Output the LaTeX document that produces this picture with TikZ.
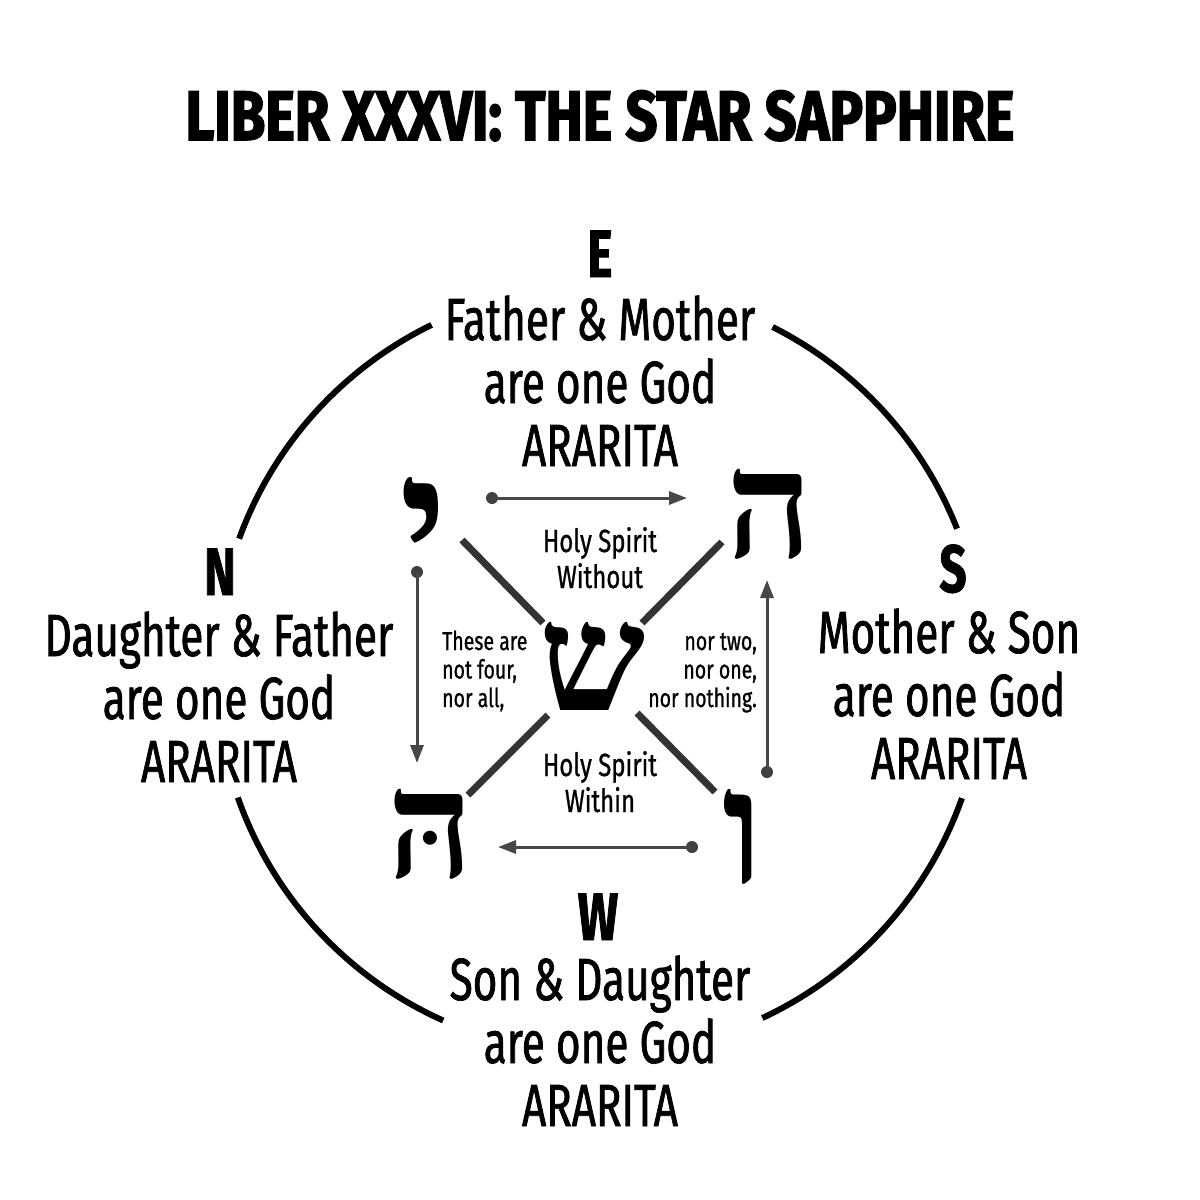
\documentclass[tikz,border=0pt]{standalone}
\usepackage{fontspec}
\usetikzlibrary{arrows.meta}
\setmainfont{Fira Sans}[FakeStretch=0.71, FakeBold=1.2]
\newfontfamily\smallfont{Fira Sans}[FakeStretch=0.75, FakeBold=0.8]
\newfontfamily\titlefont{Fira Sans}[FakeStretch=0.80, FakeBold=2.2]
\newfontfamily\hebfont[Script=Hebrew]{Liberation Serif}
\tikzset{
  maintext/.style={font=\fontsize{59.5}{63}\selectfont, align=center, anchor=base, inner sep=0pt},
  dirtext/.style={font=\fontsize{67}{70}\selectfont\bfseries, anchor=base, inner sep=0pt},
  smallc/.style={font=\fontsize{32}{36}\selectfont\smallfont, align=center, anchor=base, inner sep=0pt},
  smallside/.style={font=\fontsize{26}{28.5}\selectfont\smallfont, anchor=base, inner sep=0pt},
  hebletter/.style={font=\fontsize{150}{150}\selectfont\hebfont\bfseries, anchor=base, inner sep=0pt},
  ring/.style={line width=6pt, black},
  cross/.style={line width=7pt, black!80},
  flow/.style={line width=3pt, black!72, -{Triangle[length=18pt,width=13pt]}},
  dot/.style={circle, fill=black!75, inner sep=0pt, minimum size=12pt},
}
\begin{document}
\begin{tikzpicture}[x=1pt,y=-1pt]
\useasboundingbox[fill=white] (0,0) rectangle (1200,1200);
% title
\node[font=\fontsize{70}{70}\selectfont\titlefont\bfseries, anchor=base, inner sep=0pt] (title) at (600,140) {LIBER XXXVI: THE STAR SAPPHIRE};
% outer ring arcs
\coordinate (c) at (600,670);
\draw[ring] (c) ++(-116:384) arc[start angle=-116, end angle=-160, radius=384];
\draw[ring] (c) ++(-21.6:384) arc[start angle=-21.6, end angle=-63.3, radius=384];
\draw[ring] (c) ++(19.5:384) arc[start angle=19.5, end angle=65, radius=384];
\draw[ring] (c) ++(160.6:384) arc[start angle=160.6, end angle=114.1, radius=384];
% directions
\node[dirtext] (E) at (600,277) {E};
\node[dirtext] (N) at (220,595) {N};
\node[dirtext] (S) at (953,592) {S};
\node[dirtext] (W) at (598,940) {W};
\node[maintext] (east) at (600,466) {Father \& Mother\\are one God\\ARARITA};
\node[maintext] (north) at (219,782) {Daughter \& Father\\are one God\\ARARITA};
\node[maintext] (south) at (949,779) {Mother \& Son\\are one God\\ARARITA};
\node[maintext] (west) at (600,1126) {Son \& Daughter\\are one God\\ARARITA};
% hebrew letters
\node[hebletter, font=\fontsize{184}{184}\selectfont\hebfont\bfseries] (yod) at (424,585) {י};
\node[hebletter] (he1) at (770,557) {ה};
\node[hebletter] (he2) at (431,877) {הּ};
\node[hebletter, font=\fontsize{160}{160}\selectfont\hebfont\bfseries] (vav) at (743,883) {ו};
\node[hebletter] (shin) at (593,710) {ש};
% cross lines
\coordinate (d1a) at (462,540); \coordinate (d1b) at (543,623);
\coordinate (d2a) at (722,542); \coordinate (d2b) at (642,623);
\coordinate (d3a) at (548,715); \coordinate (d3b) at (468,795);
\coordinate (d4a) at (637,713); \coordinate (d4b) at (715,792);
\draw[cross] (d1a) -- (d1b);
\draw[cross] (d2a) -- (d2b);
\draw[cross] (d3a) -- (d3b);
\draw[cross] (d4a) -- (d4b);
% flow arrows
\node[dot] (p1) at (492,498) {}; \coordinate (t1) at (687,498);
\node[dot] (p2) at (417,572) {}; \coordinate (t2) at (417,763);
\node[dot] (p3) at (692,847) {}; \coordinate (t3) at (498,847);
\node[dot] (p4) at (767,772) {}; \coordinate (t4) at (767,580);
\draw[flow] (p1.center) -- (t1);
\draw[flow] (p2.center) -- (t2);
\draw[flow] (p3.center) -- (t3);
\draw[flow] (p4.center) -- (t4);
% inner texts
\node[smallc] (without) at (600,588) {Holy Spirit\\Without};
\node[smallc] (within) at (600,812) {Holy Spirit\\Within};
\node[smallside, align=left, anchor=base west] (left) at (442,707) {These are\\not four,\\nor all,};
\node[smallside, align=right, anchor=base east] (right) at (757,707) {nor two,\\nor one,\\nor nothing.};
\end{tikzpicture}
\end{document}
